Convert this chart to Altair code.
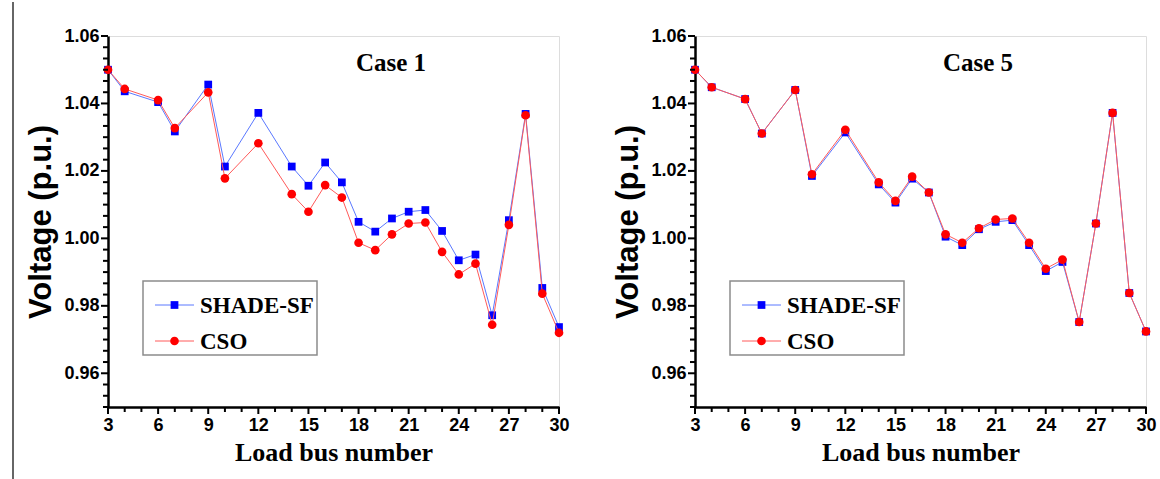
import altair as alt
import pandas as pd

# Load buses of the IEEE 30-bus system
buses = [3, 4, 6, 7, 9, 10, 12, 14, 15, 16, 17, 18, 19, 20, 21, 22, 23, 24, 25, 26, 27, 28, 29, 30]

# Bus voltage magnitudes (p.u.)
shade_case1 = [1.0500, 1.0436, 1.0404, 1.0317, 1.0456, 1.0213, 1.0372, 1.0213, 1.0156, 1.0225, 1.0166, 1.0049,
               1.0020, 1.0059, 1.0079, 1.0084, 1.0022, 0.9935, 0.9952, 0.9772, 1.0054, 1.0369, 0.9853, 0.9737]
cso_case1 = [1.0500, 1.0443, 1.0410, 1.0327, 1.0433, 1.0178, 1.0282, 1.0131, 1.0079, 1.0158, 1.0121, 0.9987,
             0.9965, 1.0012, 1.0044, 1.0047, 0.9960, 0.9893, 0.9925, 0.9744, 1.0040, 1.0365, 0.9836, 0.9720]
shade_case5 = [1.0500, 1.0448, 1.0413, 1.0311, 1.0440, 1.0185, 1.0314, 1.0160, 1.0106, 1.0177, 1.0136, 1.0005,
               0.9980, 1.0027, 1.0049, 1.0054, 0.9980, 0.9903, 0.9930, 0.9752, 1.0044, 1.0372, 0.9838, 0.9724]
cso_case5 = [1.0500, 1.0448, 1.0413, 1.0311, 1.0440, 1.0190, 1.0322, 1.0166, 1.0111, 1.0183, 1.0136, 1.0012,
             0.9987, 1.0030, 1.0056, 1.0059, 0.9987, 0.9910, 0.9937, 0.9752, 1.0044, 1.0372, 0.9838, 0.9724]

series_names = ["SHADE-SF", "CSO"]
case_titles = ["Case 1", "Case 5"]

# axis tick positions: labelled majors and unlabelled minors
x_major = [3, 6, 9, 12, 15, 18, 21, 24, 27, 30]
x_minor = [v for v in range(3, 31) if v not in x_major]
y_major = [0.96, 0.98, 1.00, 1.02, 1.04, 1.06]
y_minor = [round(0.95 + i / 300, 6) for i in range(34) if i % 6 != 3]

W, H = 451, 371
BLUE, BLUE_LINE = "#0000ff", "#5a78ff"
RED, RED_LINE = "#ff0000", "#ff5a5a"
SANS = "Liberation Sans"
SERIF = "Liberation Serif"
MAJOR_LEN, MINOR_LEN = 7, 5

x_scale = alt.Scale(domain=[3, 30], nice=False, zero=False)
y_scale = alt.Scale(domain=[0.95, 1.06], nice=False, zero=False)

x_axis = alt.Axis(
    title="Load bus number", values=x_major, orient="bottom", ticks=False, grid=False,
    domain=True, domainColor="#000000", domainWidth=2.5,
    labelFlush=False, labelOverlap=False,
    labelFont=SANS, labelFontWeight="bold", labelFontSize=18, labelColor="black", labelPadding=9,
    titleFont=SERIF, titleFontWeight="bold", titleFontSize=26, titleColor="black", titlePadding=5,
)
y_axis = alt.Axis(
    title="Voltage (p.u.)", values=y_major, format=".2f", orient="left", ticks=False, grid=False,
    domain=True, domainColor="#000000", domainWidth=2.5,
    labelOverlap=False,
    labelFont=SANS, labelFontWeight="bold", labelFontSize=18, labelColor="black", labelPadding=9,
    titleFont=SANS, titleFontWeight="bold", titleFontSize=31, titleColor="black", titlePadding=6,
)


def tick_layers():
    """Outward tick marks drawn through the panel scales."""
    out = []
    for vals, length in [(x_major, MAJOR_LEN), (x_minor, MINOR_LEN)]:
        out.append(alt.Chart(pd.DataFrame({"v": vals})).mark_rule(color="black", strokeWidth=2).encode(
            x=alt.X("v:Q", scale=x_scale, axis=x_axis), y=alt.value(H), y2=alt.value(H + length)))
    for vals, length in [(y_major, MAJOR_LEN), (y_minor, MINOR_LEN)]:
        out.append(alt.Chart(pd.DataFrame({"v": vals})).mark_rule(color="black", strokeWidth=2).encode(
            y=alt.Y("v:Q", scale=y_scale, axis=y_axis), x=alt.value(0), x2=alt.value(-length)))
    return out


def panel(shade, cso, title, frame_line=False):
    df = pd.DataFrame({
        "bus": buses * 2,
        "voltage": shade + cso,
        "series": [series_names[0]] * len(buses) + [series_names[1]] * len(buses),
    })
    base = alt.Chart(df).encode(
        x=alt.X("bus:Q", scale=x_scale, axis=x_axis),
        y=alt.Y("voltage:Q", scale=y_scale, axis=y_axis),
    )
    shade_data = base.transform_filter(alt.datum.series == series_names[0])
    cso_data = base.transform_filter(alt.datum.series == series_names[1])

    layers = [
        shade_data.mark_line(color=BLUE_LINE, strokeWidth=1),
        shade_data.mark_point(shape="square", filled=True, color=BLUE, size=60, opacity=1),
        cso_data.mark_line(color=RED_LINE, strokeWidth=1),
        cso_data.mark_point(shape="circle", filled=True, color=RED, size=75, opacity=1),
    ]
    layers += tick_layers()

    # case label
    layers.append(
        alt.Chart(pd.DataFrame({"t": [title]})).mark_text(
            font=SERIF, fontWeight="bold", fontSize=25, color="black", align="center", baseline="middle"
        ).encode(x=alt.value(283), y=alt.value(27), text="t:N")
    )

    # legend box
    layers.append(
        alt.Chart(pd.DataFrame({"t": [title]})).mark_rect(fill="white", stroke="#8c8c8c", strokeWidth=1.5).encode(
            x=alt.value(35), x2=alt.value(209), y=alt.value(245), y2=alt.value(319)
        )
    )
    for name, row_y, lc, mc, shp, sz in [
        (series_names[0], 269, BLUE_LINE, BLUE, "square", 60),
        (series_names[1], 305, RED_LINE, RED, "circle", 75),
    ]:
        item = alt.Chart(pd.DataFrame({"series": [name]}))
        layers.append(item.mark_rule(color=lc, strokeWidth=1).encode(
            x=alt.value(47), x2=alt.value(86), y=alt.value(row_y)))
        layers.append(item.mark_point(shape=shp, filled=True, color=mc, size=sz, opacity=1).encode(
            x=alt.value(66.5), y=alt.value(row_y)))
        layers.append(item.mark_text(font=SERIF, fontWeight="bold", fontSize=23, color="black",
                                     align="left", baseline="middle").encode(
            x=alt.value(92), y=alt.value(row_y + 1), text="series:N"))

    if frame_line:
        layers.append(
            alt.Chart(pd.DataFrame({"t": [title]})).mark_rule(color="#333333", strokeWidth=1.5).encode(
                x=alt.value(-95), y=alt.value(-34), y2=alt.value(445)
            )
        )

    return alt.layer(*layers).properties(width=W, height=H)


left = panel(shade_case1, cso_case1, case_titles[0], frame_line=True)
right = panel(shade_case5, cso_case5, case_titles[1])

chart = alt.hconcat(left, right, spacing=136, bounds="flush").properties(
    padding={"left": 11, "top": 0, "right": 0, "bottom": 0}
).configure_view(
    stroke="black", strokeWidth=2.5
).configure(background="white")

chart.save("out.html", embed_options={"renderer": "svg", "actions": False})
